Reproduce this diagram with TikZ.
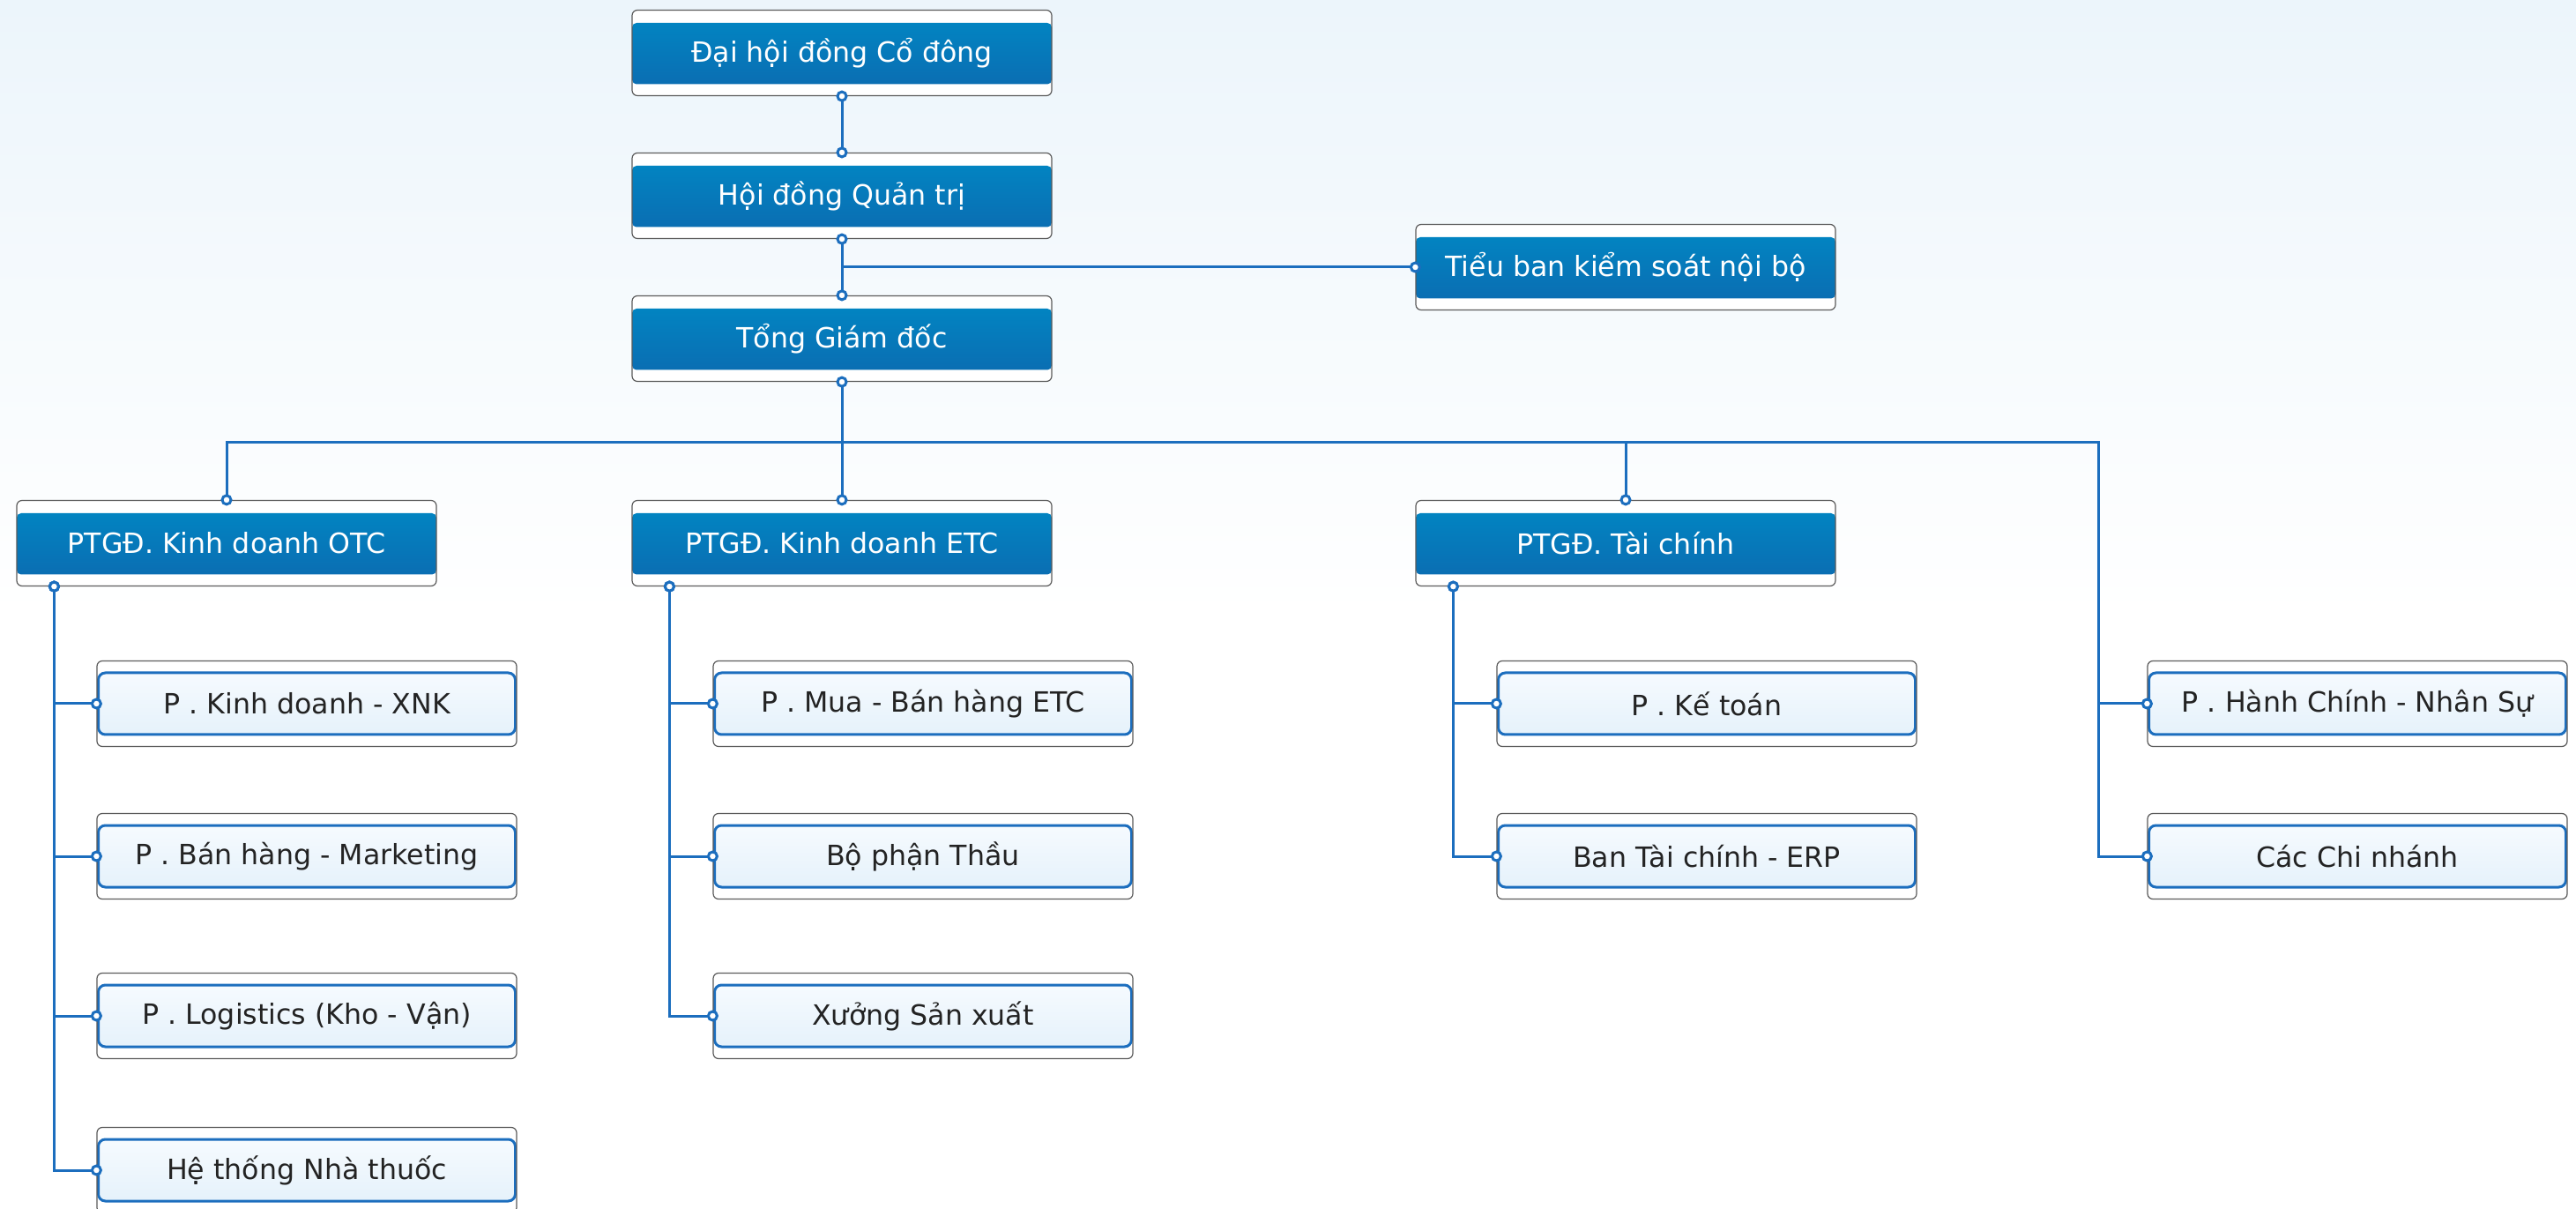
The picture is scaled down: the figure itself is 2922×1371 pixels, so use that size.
\documentclass[tikz,border=0pt]{standalone}
\usepackage{fontspec}
\setmainfont{DejaVu Sans}
\usetikzlibrary{arrows.meta}

\definecolor{bgtop}{RGB}{236,245,251}
\definecolor{darktop}{RGB}{0,136,196}
\definecolor{darkbot}{RGB}{12,106,176}
\definecolor{lighttop}{RGB}{249,252,255}
\definecolor{lightbot}{RGB}{226,240,250}
\definecolor{linkblue}{RGB}{28,110,190}
\definecolor{framegray}{RGB}{90,90,90}
\definecolor{textdark}{RGB}{35,35,35}

\begin{document}
\begin{tikzpicture}[
        x=0.1mm, y=-0.1mm,
        ring/.tip={Circle[length=1.3mm, fill=white]},
        frame_base/.style={rectangle, rounded corners=0.6mm, draw=framegray, line width=0.12mm, fill=white, minimum width=47.6mm, minimum height=9.7mm, inner sep=0pt, font=\fontsize{9}{10}\selectfont},
        dark_block/.style={frame_base, text=white, path picture={\shade[top color=darktop, bottom color=darkbot, rounded corners=0.5mm] ([yshift=-1.45mm]path picture bounding box.north west) rectangle ([yshift=1.3mm]path picture bounding box.south east);}},
        light_block/.style={frame_base, text=textdark, path picture={\shadedraw[top color=lighttop, bottom color=lightbot, draw=linkblue, line width=0.3mm, rounded corners=0.8mm] ([xshift=0.15mm, yshift=-1.35mm]path picture bounding box.north west) rectangle ([xshift=-0.15mm, yshift=1.35mm]path picture bounding box.south east);}},
        link/.style={draw=linkblue, line width=0.3mm},
        ring_end/.style={-{ring}, shorten >=-0.65mm},
        ring_both/.style={{ring}-{ring}, shorten <=-0.65mm, shorten >=-0.65mm}
    ]
        % Page and background
        \useasboundingbox (0,0) rectangle (2922,1371);
        \clip (0,0) rectangle (2922,1371);
        \fill[white] (0,0) rectangle (2922,1371);
        \shade[top color=bgtop, bottom color=white] (0,0) rectangle (2922,700);

        % Board level
        \node (dhcd) at (955, 60) [dark_block] {Đại hội đồng Cổ đông};
        \node (hdqt) at (955, 222) [dark_block] {Hội đồng Quản trị};
        \node (tgd) at (955, 384) [dark_block] {Tổng Giám đốc};
        \node (tbks) at (1844, 303) [dark_block] {Tiểu ban kiểm soát nội bộ};

        % Deputy directors
        \node (otc) at (257, 616) [dark_block] {PTGĐ. Kinh doanh OTC};
        \node (etc) at (955, 616) [dark_block] {PTGĐ. Kinh doanh ETC};
        \node (tc) at (1844, 616) [dark_block] {PTGĐ. Tài chính};

        % Departments
        \node (kdxnk) at (348, 798) [light_block] {P . Kinh doanh - XNK};
        \node (bhmkt) at (348, 971) [light_block] {P . Bán hàng - Marketing};
        \node (logi) at (348, 1152) [light_block] {P . Logistics (Kho - Vận)};
        \node (nhathuoc) at (348, 1327) [light_block] {Hệ thống Nhà thuốc};

        \node (muaban) at (1047, 798) [light_block] {P . Mua - Bán hàng ETC};
        \node (thau) at (1047, 971) [light_block] {Bộ phận Thầu};
        \node (xuong) at (1047, 1152) [light_block] {Xưởng Sản xuất};

        \node (ketoan) at (1936, 798) [light_block] {P . Kế toán};
        \node (taichinh) at (1936, 971) [light_block] {Ban Tài chính - ERP};

        \node (hcns) at (2674, 798) [light_block] {P . Hành Chính - Nhân Sự};
        \node (chinhanh) at (2674, 971) [light_block] {Các Chi nhánh};

        % Connections
        \draw [link, ring_both] (dhcd) -- (hdqt);
        \draw [link, ring_both] (hdqt) -- (tgd);
        \draw [link, ring_end] (hdqt.south |- tbks.west) -- (tbks.west);

        \draw [link, {ring}-, shorten <=-0.65mm] (tgd.south) -- ++(0,68) coordinate (bus);
        \draw [link, ring_end] (bus) -| (otc.north);
        \draw [link, ring_end] (bus) -- (etc.north);
        \draw [link, ring_end] (bus) -| (tc.north);
        \draw [link, ring_end] (bus) -| ([xshift=-5.5mm]chinhanh.west) -- (chinhanh.west);
        \draw [link, ring_end] ([xshift=-5.5mm]hcns.west) -- (hcns.west);

        \foreach \dept in {kdxnk, bhmkt, logi, nhathuoc}
            \draw [link, ring_both] ([xshift=4.3mm]otc.south west) |- (\dept.west);
        \foreach \dept in {muaban, thau, xuong}
            \draw [link, ring_both] ([xshift=4.3mm]etc.south west) |- (\dept.west);
        \foreach \dept in {ketoan, taichinh}
            \draw [link, ring_both] ([xshift=4.3mm]tc.south west) |- (\dept.west);

    \end{tikzpicture}
\end{document}
